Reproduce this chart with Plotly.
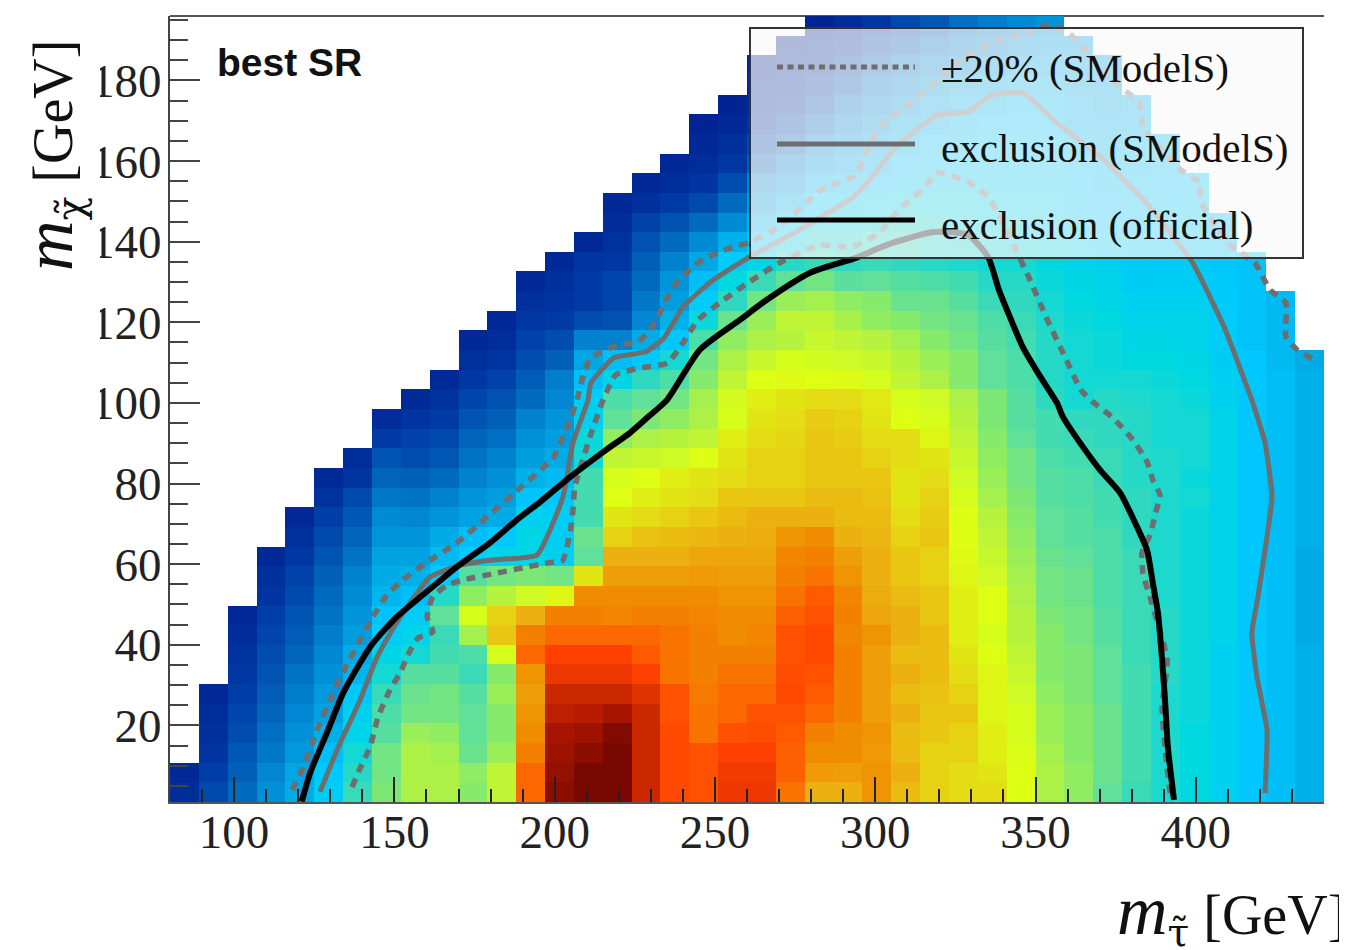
import plotly.graph_objects as go

# signal-region efficiency-like values per m_stau column, listed bottom to top
col_00 = [5, 3]
col_01 = [14, 11, 8, 6, 5, 3]
col_02 = [22, 20, 18, 15, 13, 11, 9, 7, 5, 3]
col_03 = [30, 28, 25, 23, 21, 19, 17, 15, 13, 11, 8, 6, 3]
col_04 = [36, 35, 32, 30, 28, 26, 24, 21, 19, 17, 14, 12, 9, 6, 3]
col_05 = [44, 42, 40, 37, 34, 32, 30, 28, 26, 24, 22, 20, 17, 14, 11, 7, 4]
col_06 = [54, 52, 50, 46, 45, 42, 38, 36, 33, 31, 29, 27, 24, 21, 18, 14, 8, 5]
col_07 = [61, 60, 60, 57, 56, 54, 50, 47, 43, 41, 38, 36, 34, 31, 29, 25, 21, 17, 10, 5]
col_08 = [66, 66, 66, 64, 60, 59, 57, 50, 46, 44, 40, 37, 34, 31, 28, 24, 20, 15, 12, 8, 4]
col_09 = [66, 66, 65, 63, 60, 60, 57, 55, 54, 58, 52, 43, 39, 36, 31, 27, 22, 18, 14, 10, 7, 4]
col_10 = [62, 63, 59, 58, 58, 57, 54, 56, 65, 71, 63, 57, 43, 40, 34, 31, 27, 24, 21, 17, 13, 9, 6, 3]
col_11 = [68, 68, 64, 62, 62, 64, 62, 71, 78, 77, 67, 60, 46, 42, 36, 33, 30, 27, 23, 20, 16, 12, 8, 5, 3]
col_12 = [87, 87, 85, 84, 83, 82, 83, 87, 85, 80, 70, 61, 47, 47, 45, 41, 37, 33, 30, 27, 22, 19, 15, 12, 9, 6, 3]
col_13 = [99, 98.5, 98, 97.5, 96, 95, 92.5, 91, 87, 85, 73, 60, 45, 44, 44, 42, 39, 36, 33, 31, 28, 26, 20, 15, 10, 8, 6, 3]
col_14 = [100, 100, 99, 98, 96.5, 95, 92.5, 91, 87, 85, 84, 75, 58, 59, 55, 55, 55, 50, 49, 45, 44, 40, 35, 27, 15, 10, 10, 8, 3]
col_15 = [100, 100, 100, 99.5, 97.5, 95, 92.5, 91, 87, 84.5, 84, 82, 80, 77, 75, 72, 71, 68, 63, 58, 56, 47, 40, 27, 16, 13, 13, 9, 7, 5, 3]
col_16 = [95, 95, 95, 95, 95, 93.5, 91, 88, 87, 85, 84, 82, 80, 78.5, 76, 74, 72, 69, 66, 61, 58, 53, 42, 36, 28, 25, 22, 20, 16, 12, 6, 3]
col_17 = [90, 90, 90, 90, 89, 89, 86, 86, 86, 85, 84, 82, 80, 79, 77, 75, 74, 70, 67, 63, 60, 56, 50, 42, 37, 33, 31, 27, 22, 16, 10, 5, 3]
col_18 = [89, 89, 89, 86, 86, 85.5, 85, 85, 85, 84.5, 84, 82.5, 81, 79.5, 78, 76, 75, 72, 68, 66, 65, 62, 60, 56, 49, 43, 40, 35, 29, 22, 14, 8, 5, 3, 2]
col_19 = [92.5, 92, 91, 89, 87, 87, 86, 85, 84, 84, 83, 82, 81, 80, 79, 78, 76, 75, 74, 71, 70.5, 68, 66, 63, 59, 53, 48, 43, 37, 29, 22, 15, 9, 6, 3, 2]
col_20 = [92.5, 92, 91, 89.5, 89, 87, 86, 85, 84.5, 84, 83, 82, 81, 80.5, 80, 78, 77, 77, 76, 75, 74, 72, 69, 66, 64, 60, 54, 47, 42, 38, 33, 28, 20, 14, 8, 5, 3, 2]
col_21 = [86, 87.5, 87.5, 88, 89, 90, 89.5, 89, 89, 87.5, 86, 85, 84.5, 83, 80, 78, 77, 77, 76.5, 76, 75, 72.5, 71, 67, 68, 64, 58, 52, 47, 43, 38, 33, 27, 20, 13, 8, 5, 3, 1]
col_22 = [80, 82.5, 84, 85, 87, 88, 89, 90, 90, 89, 88, 86, 85, 84, 80, 79, 78, 78, 78, 77.5, 76, 72, 70.5, 69, 68, 65, 60, 54, 50, 46, 42, 38, 33, 28, 22, 15, 10, 6, 3, 2]
col_23 = [80, 82, 84, 84, 85, 85, 85, 85, 84.5, 85, 84.5, 83, 82, 80, 79, 79, 78, 78, 77.5, 77, 76, 72.5, 70, 68, 65.5, 63, 57.5, 53, 50, 47, 43, 40, 36, 33, 29, 24, 18, 13, 8, 5]
col_24 = [83, 83, 82.5, 83, 82, 82, 82, 82, 83, 81, 80.5, 80, 80, 79.5, 79, 78.5, 78, 77, 76, 75, 74.5, 71, 69, 67, 63, 62, 58, 54, 52, 48, 45, 41, 38, 36, 33, 29, 25, 20, 14, 9]
col_25 = [79, 80, 79, 79, 80, 79, 80, 79, 80, 80, 79, 78, 78, 77, 76, 75, 75, 76, 76, 72, 71, 68, 67, 65, 62, 59, 57, 53, 53, 50, 46, 43, 41, 39, 36, 33, 29, 25, 19, 14]
col_26 = [77, 77, 77, 78, 78, 78.5, 79, 79, 79, 78, 78, 77, 77, 78, 77.5, 77, 76, 75, 73, 71, 70, 66, 64, 62, 60, 59, 56, 52, 51, 50, 46, 44, 42, 41, 38, 36, 33, 29, 23, 18]
col_27 = [76, 76, 77, 77, 78, 77, 76, 75, 74, 74, 74, 73, 72.5, 72, 72, 71, 70, 69, 68, 67, 66, 62, 62, 60, 59, 57, 55, 51, 50, 48, 46, 44, 42, 41, 40, 38, 35, 31, 27, 23]
col_28 = [76, 75, 74, 74, 73, 73, 73, 72, 71, 72, 72, 70, 69, 68, 67, 65, 64, 63, 62, 61, 61, 58, 58, 57, 56, 54, 52, 50, 49, 47, 45, 44, 43, 42, 41, 39, 37, 33, 29, 26]
col_29 = [72, 72, 71.5, 71, 71, 70, 69, 68, 67, 67, 66, 65, 64, 63, 62, 61, 60, 60, 58, 57, 57, 56, 56, 55, 54, 53, 52, 50, 48, 47, 45, 44, 43, 42, 41, 40, 38, 36, 33, 29]
col_30 = [66, 66, 65, 64, 64, 63, 62, 62, 62, 61, 60, 60, 59, 58, 58, 57, 57, 56, 55, 55, 53, 52, 52, 52, 51, 50, 49, 48, 47, 46, 45, 44, 43, 42, 41, 40, 38, 36, 34, 31]
col_31 = [63, 63, 62, 62, 62, 61, 61, 61, 60, 60, 59, 59, 58, 57, 57, 56, 56, 55, 54, 53, 50, 50, 50, 50, 49, 48, 47, 46, 45, 44, 43, 42, 41, 40, 39, 38, 37, 36, 34]
col_32 = [58, 59, 59, 59, 59, 58, 58, 58, 57, 57, 56, 56, 56, 56, 55, 55, 54, 54, 53, 53, 52, 50, 49, 49, 48, 47, 46, 45, 43, 42, 41, 40, 40, 39, 38, 37, 36, 35]
col_33 = [54, 55, 55, 55, 55, 55, 55, 54, 54, 54, 54, 54, 54, 53, 53, 53, 52, 52, 52, 52, 51, 50, 48, 47, 46, 45, 44, 44, 43, 42, 42, 41, 40, 40, 39, 38]
col_34 = [51, 51, 51, 51, 51, 51, 52, 52, 52, 52, 51, 51, 51, 51, 51, 51, 51, 51, 50, 50, 50, 49, 48, 47, 46, 45, 44, 43, 43, 42, 42, 41, 41, 40]
col_35 = [48, 48, 48, 48, 49, 49, 49, 49, 49, 49, 49, 49, 49, 49, 49, 50, 49, 50, 50, 50, 49, 48, 47, 46, 46, 45, 44, 44, 43, 43, 42, 42]
col_36 = [45, 45, 45, 45, 45, 45, 45, 45, 46, 46, 46, 46, 46, 46, 46, 46, 46, 46, 46, 46, 45, 45, 44, 44, 43, 43, 42.5, 42, 41, 41]
col_37 = [42, 42, 42, 42, 42, 42, 42, 42, 42, 42, 42, 42, 42, 42, 42, 42, 42, 42, 42, 42, 42, 42, 42, 41, 41, 41, 41, 41]
col_38 = [40, 40, 40, 40, 40, 40, 40, 40, 40, 40, 40, 40, 40, 40, 40, 40, 40, 40, 40, 40, 40, 40, 39, 39, 39, 39]
col_39 = [37, 37, 37, 37, 37, 37, 37, 37, 36, 36, 36, 36, 36, 37, 37, 37, 37, 37, 37, 37, 37, 37, 36]

columns = [col_00, col_01, col_02, col_03, col_04, col_05, col_06, col_07, col_08, col_09,
           col_10, col_11, col_12, col_13, col_14, col_15, col_16, col_17, col_18, col_19,
           col_20, col_21, col_22, col_23, col_24, col_25, col_26, col_27, col_28, col_29,
           col_30, col_31, col_32, col_33, col_34, col_35, col_36, col_37, col_38, col_39]

x_start, x_bin = 84.5, 9.0
y_start, y_bin = 3.4375, 4.875

official_x = [121.1, 123.7, 128.9, 134.0, 139.3, 143.3, 150.7, 158.9, 169.4, 179.8, 188.2, 195.4, 204.8, 215.1, 223.5, 229.1, 235.0, 245.3, 257.8, 266.2, 279.7, 294.0, 303.7, 318.2, 328.9, 335.2, 338.6, 342.4, 346.0, 350.8, 356.7, 358.6, 364.8, 370.1, 376.4, 381.7, 384.8, 386.6, 388.2, 389.5, 390.4, 391.3, 393.2]
official_y = [1.1, 8.2, 18.1, 28.0, 35.5, 40.4, 46.9, 52.4, 59.3, 65.3, 71.0, 75.4, 81.6, 87.8, 92.6, 96.5, 100.7, 113.2, 120.6, 125.6, 132.3, 136.0, 139.2, 142.4, 141.7, 136.2, 128.0, 120.6, 113.9, 107.4, 100.0, 96.5, 89.1, 83.4, 77.7, 69.2, 63.5, 55.3, 47.9, 36.2, 26.3, 14.6, 1.5]

smodels_x = [126.8, 132.1, 139.3, 144.6, 150.8, 161.1, 170.5, 179.8, 194.5, 202.6, 205.7, 210.4, 211.3, 218.5, 228.5, 234.1, 240.0, 249.4, 260.3, 274.7, 292.8, 299.0, 306.2, 319.3, 328.9, 336.4, 346.1, 356.7, 371.4, 385.7, 399.1, 408.8, 417.5, 421.6, 423.8, 421.6, 419.4, 417.5, 419.1, 422.2, 421.6]
smodels_y = [3.5, 13.9, 26.3, 37.0, 45.7, 56.8, 59.8, 61.0, 62.3, 76.7, 90.1, 100.7, 105.0, 111.2, 112.7, 116.1, 123.8, 130.5, 136.0, 142.2, 150.9, 156.1, 163.3, 171.5, 172.2, 176.4, 176.9, 169.5, 160.3, 148.6, 134.7, 118.9, 100.7, 90.1, 76.7, 63.5, 51.9, 42.9, 32.0, 18.9, 3.2]

plus20_x = [118.1, 121.5, 125.9, 130.9, 137.1, 143.3, 147.7, 152.7, 160.2, 169.5, 178.9, 189.2, 199.5, 202.6, 205.4, 207.2, 208.8, 211.3, 219.8, 225.7, 229.1, 232.2, 235.2, 238.8, 246.0, 255.5, 260.3, 270.0, 278.4, 283.1, 294.0, 296.5, 301.2, 309.6, 317.1, 325.5, 336.4, 347.0, 354.5, 360.4, 365.3, 372.6, 382.3, 383.5, 395.4, 401.3, 401.3, 410.0, 418.5, 423.2, 428.1, 428.1, 431.6, 438.1]
plus20_y = [4.0, 9.4, 18.9, 28.0, 38.0, 46.9, 52.4, 56.1, 60.5, 65.3, 71.7, 78.9, 86.4, 91.6, 97.0, 101.5, 106.5, 111.2, 114.4, 115.1, 117.4, 121.3, 126.3, 130.5, 135.5, 138.7, 139.7, 143.7, 149.6, 152.9, 156.6, 161.0, 168.5, 173.5, 178.4, 184.4, 189.3, 191.8, 193.8, 191.8, 187.6, 180.9, 174.4, 168.5, 157.8, 154.6, 150.4, 139.7, 134.7, 128.0, 124.8, 116.4, 113.2, 110.2]

minus20_x = [136.8, 139.3, 142.4, 144.9, 148.6, 151.8, 154.2, 157.4, 162.0, 160.2, 162.0, 166.4, 171.4, 182.0, 190.1, 197.6, 202.6, 203.2, 204.8, 205.7, 206.3, 208.8, 211.0, 215.1, 219.1, 226.9, 235.2, 240.0, 244.7, 251.9, 260.3, 270.0, 278.4, 283.1, 292.8, 301.2, 307.4, 314.6, 319.3, 328.9, 335.2, 342.4, 348.3, 353.3, 359.2, 364.2, 368.0, 374.2, 380.4, 384.8, 386.6, 388.8, 387.3, 385.7, 383.2, 383.5, 385.7, 391.0, 391.0, 389.5, 390.4, 392.0]
minus20_y = [4.7, 9.4, 14.6, 22.1, 28.8, 33.0, 37.5, 41.7, 43.2, 46.9, 51.9, 54.8, 56.1, 57.8, 59.1, 60.3, 61.0, 62.3, 67.7, 73.4, 79.2, 85.9, 91.6, 100.7, 107.0, 108.7, 109.9, 114.9, 120.6, 125.1, 129.8, 134.7, 138.0, 139.2, 138.7, 142.2, 147.9, 152.9, 157.1, 154.8, 151.1, 140.4, 130.5, 121.3, 111.4, 103.2, 100.2, 96.3, 90.8, 85.4, 80.9, 77.2, 72.2, 67.2, 62.8, 57.8, 51.9, 37.0, 34.2, 24.6, 14.4, 3.2]

x_ticks = [100, 150, 200, 250, 300, 350, 400]
y_ticks = [20, 40, 60, 80, 100, 120, 140, 160, 180]
legend_names = ["±20% (SModelS)", "exclusion (SModelS)", "exclusion (official)"]

rainbow = [
    [0.00, "#00208f"], [0.10, "#003aa5"], [0.20, "#0060b8"], [0.30, "#0090d8"],
    [0.37, "#00b0e8"], [0.42, "#00c8ff"], [0.48, "#00d8e0"], [0.53, "#30d8c0"],
    [0.58, "#60e098"], [0.63, "#90ec60"], [0.68, "#c0f535"], [0.72, "#dcff14"],
    [0.76, "#e4dc14"], [0.80, "#ecb010"], [0.84, "#f08c00"], [0.88, "#ff5a00"],
    [0.91, "#ff4000"], [0.94, "#d83000"], [0.97, "#b01800"], [1.00, "#780800"],
]

n_rows = 40
z = [[columns[c][r] if r < len(columns[c]) else None for c in range(40)] for r in range(n_rows)]

# layout measured in page pixels; the page body adds an 8 px offset
PAGE_W, PAGE_H, BODY = 1347, 950, 8
L, R, T, B = 170, 1324, 16, 802
serif = "Liberation Serif"
grey = "#6e6e6e"


def px_x(p):
    return (p - L) / (R - L)


def px_y(p):
    return (B - p) / (B - T)


def mass_title(symbol):
    return ('<span style="font-size:70px"><i>m</i></span>'
            '<sub><span style="font-family:DejaVu Serif">' + symbol + '</span></sub> [GeV]')


fig = go.Figure()
fig.add_trace(go.Heatmap(z=z, x0=x_start, dx=x_bin, y0=y_start, dy=y_bin, colorscale=rainbow,
                         zmin=0, zmax=100, showscale=False, hoverongaps=False))
fig.add_trace(go.Scatter(x=plus20_x + [None] + minus20_x, y=plus20_y + [None] + minus20_y, mode="lines",
                         name=legend_names[0],
                         line=dict(color=grey, width=5.5, dash="9px,7px", shape="spline", smoothing=0.5)))
fig.add_trace(go.Scatter(x=smodels_x, y=smodels_y, mode="lines", name=legend_names[1],
                         line=dict(color=grey, width=5, shape="spline", smoothing=0.4)))
fig.add_trace(go.Scatter(x=official_x, y=official_y, mode="lines", name=legend_names[2],
                         line=dict(color="black", width=6, shape="spline", smoothing=0.6)))

key_styles = [dict(color=grey, width=5, dash="6px,4.5px"), dict(color=grey, width=5), dict(color="black", width=5)]
key_rows = [67, 144, 220]
text_rows = [68, 148, 225]

shapes = [
    dict(type="line", xref="paper", yref="paper", x0=0, x1=1, y0=1, y1=1, layer="below",
         line=dict(color="#555555", width=2)),
    dict(type="rect", xref="paper", yref="paper", x0=px_x(0), x1=px_x(100), y0=px_y(PAGE_H), y1=px_y(0),
         layer="above", fillcolor="white", line=dict(width=0)),
    dict(type="rect", xref="paper", yref="paper", x0=px_x(750), x1=px_x(1303), y0=px_y(258), y1=px_y(28),
         layer="above", fillcolor="rgba(250,250,250,0.7)", line=dict(color="#333333", width=2)),
]
annotations = [
    dict(text="<b>best SR</b>", xref="paper", yref="paper", x=px_x(215), y=px_y(62), xanchor="left",
         yanchor="middle", showarrow=False, font=dict(family="Liberation Sans", size=39, color="#111111")),
    dict(text=mass_title("χ̃"), xref="paper", yref="paper", x=px_x(51), y=px_y(156),
         xanchor="center", yanchor="middle", textangle=-90, showarrow=False,
         font=dict(family=serif, size=56, color="#111111")),
    dict(text=mass_title("τ̃"), xref="paper", yref="paper", x=px_x(1348), y=px_y(913),
         xanchor="right", yanchor="middle", showarrow=False,
         font=dict(family=serif, size=56, color="#111111")),
]
for name, style, row, text_row in zip(legend_names, key_styles, key_rows, text_rows):
    shapes.append(dict(type="line", xref="paper", yref="paper", x0=px_x(777), x1=px_x(915),
                       y0=px_y(row), y1=px_y(row), layer="above", line=style))
    annotations.append(dict(text=name, xref="paper", yref="paper", x=px_x(939), y=px_y(text_row), xanchor="left",
                            yanchor="middle", showarrow=False, font=dict(family=serif, size=41, color="#111111")))

fig.update_layout(
    width=PAGE_W - BODY, height=PAGE_H - BODY, autosize=False, showlegend=False,
    margin=dict(l=L - BODY, r=PAGE_W - R, t=T - BODY, b=PAGE_H - B),
    paper_bgcolor="white", plot_bgcolor="white",
    font=dict(family=serif, color="#222222"),
    xaxis=dict(range=[80, 440], tickmode="array", tickvals=x_ticks, ticks="inside", ticklen=25, tickwidth=2,
               tickcolor="#222222", showgrid=False, zeroline=False, showline=True, linecolor="#555555", linewidth=2,
               ticklabelstandoff=-12, tickfont=dict(family=serif, size=47, color="#222222"),
               minor=dict(dtick=10, tick0=0, ticks="inside", ticklen=13, tickwidth=2, tickcolor="#222222", showgrid=False)),
    yaxis=dict(range=[1, 196], tickmode="array", tickvals=y_ticks, ticks="inside", ticklen=30, tickwidth=2,
               tickcolor="#444444", showgrid=False, zeroline=False, showline=True, linecolor="#444444", linewidth=2,
               ticklabelstandoff=-3, tickfont=dict(family=serif, size=47, color="#222222"),
               minor=dict(dtick=5, tick0=0, ticks="inside", ticklen=18, tickwidth=2, tickcolor="#444444", showgrid=False)),
    shapes=shapes,
    annotations=annotations,
)

fig.write_html("out.html")
